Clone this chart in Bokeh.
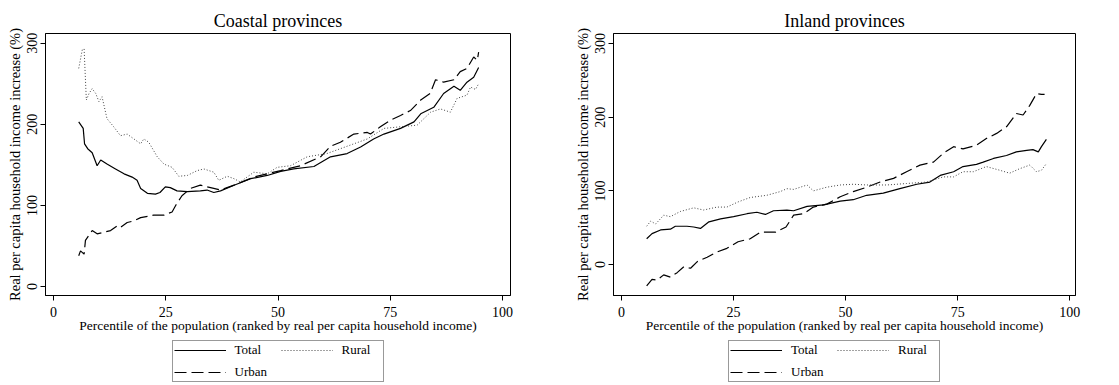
from bokeh.plotting import figure
from bokeh.layouts import row, column
from bokeh.models import Legend, LegendItem, FixedTicker, Range1d
from bokeh.embed import file_html
from bokeh.resources import INLINE

# ---------------- Data ----------------
coast_total_x = [5.6, 6.6, 6.9, 7.6, 8.6, 9.7, 10.5, 11.9, 13.8, 15.7, 17.5, 18.6, 19.4, 20.9, 22.7,
                 23.7, 24.9, 26.0, 27.5, 29.8, 32.7, 34.2, 35.7, 37.2, 40.2, 43.9, 47.6, 50.6, 53.5,
                 58.0, 61.7, 65.4, 68.4, 71.3, 73.6, 77.3, 80.3, 81.8, 84.7, 86.9, 89.2, 90.6, 92.1,
                 93.6, 94.7]
coast_total_y = [203, 195, 176, 170, 165, 149, 156, 151, 145, 139, 135, 131, 121, 115, 114,
                 116, 123, 122, 118, 117, 118, 119, 116, 118, 125, 133, 137, 142, 145,
                 148, 160, 164, 172, 182, 188, 195, 203, 213, 221, 238, 247, 242, 252,
                 258, 270]

coast_urban_x = [5.6, 6.0, 6.8, 7.1, 8.6, 9.7, 11.2, 12.7, 14.2, 14.9, 16.4, 17.9, 19.4, 22.3, 24.6,
                 26.4, 27.2, 28.6, 30.5, 32.7, 34.2, 35.7, 37.2, 40.2, 44.6, 50.6, 55.0, 59.5, 61.7,
                 63.9, 66.9, 69.9, 70.6, 72.8, 75.0, 77.3, 79.5, 81.8, 83.9, 85.1, 86.9, 89.2, 90.6,
                 92.1, 93.6, 94.4, 94.7]
coast_urban_y = [38, 44, 40, 57, 69, 65, 67, 69, 75, 73, 79, 81, 85, 88, 88,
                 92, 100, 112, 121, 125, 123, 121, 119, 125, 135, 143, 149, 160, 173,
                 178, 188, 190, 188, 197, 205, 211, 217, 230, 238, 255, 252, 255, 265,
                 269, 283, 279, 289]

coast_rural_x = [5.6, 6.4, 6.8, 7.3, 7.9, 8.6, 9.4, 10.1, 10.8, 11.9, 13.4, 14.9, 16.4, 17.9, 19.4,
                 20.1, 21.2, 23.1, 24.6, 26.4, 27.9, 29.8, 32.0, 33.5, 35.7, 36.8, 38.7, 40.2, 41.6,
                 44.6, 47.6, 49.8, 52.8, 56.5, 60.9, 66.9, 69.9, 73.6, 77.3, 81.0, 84.0, 86.2, 88.4,
                 89.9, 92.1, 92.9, 94.0, 94.7]
coast_rural_y = [269, 292, 293, 230, 238, 244, 238, 228, 234, 207, 197, 186, 188, 182, 176,
                 182, 178, 160, 151, 147, 136, 137, 143, 145, 141, 131, 136, 133, 129,
                 141, 139, 147, 149, 160, 164, 176, 182, 195, 197, 199, 215, 219, 215,
                 232, 236, 246, 243, 250]

inland_total_x = [5.6, 6.8, 8.7, 10.9, 12.0, 14.6, 16.1, 17.6, 19.5, 22.1, 25.0, 28.0, 30.2, 32.1,
                  33.9, 36.9, 38.4, 41.4, 45.1, 48.8, 51.7, 54.7, 58.4, 62.1, 65.9, 68.8, 71.1,
                  74.1, 76.2, 79.2, 80.7, 83.0, 85.9, 88.1, 90.4, 91.8, 93.0, 93.7, 94.8]
inland_total_y = [35, 42, 47, 48, 52, 52, 51, 49, 58, 62, 65, 69, 71, 68,
                  73, 74, 73, 79, 81, 86, 88, 94, 97, 103, 109, 112, 121,
                  126, 133, 136, 139, 144, 148, 153, 155, 156, 153, 160, 170]

inland_urban_x = [5.6, 6.8, 7.9, 9.4, 10.9, 12.4, 13.9, 15.4, 16.9, 19.1, 21.3, 23.5, 26.0, 28.7,
                  31.0, 34.4, 36.7, 38.4, 40.6, 42.8, 45.8, 48.8, 51.7, 54.7, 57.7, 60.7, 63.6,
                  66.6, 69.6, 71.8, 74.1, 76.2, 79.2, 81.4, 83.7, 85.9, 88.1, 89.6, 91.1, 92.6,
                  93.7, 94.4]
inland_urban_y = [-29, -20, -21, -14, -17, -11, -3, -5, 4, 10, 17, 22, 31, 35,
                  44, 44, 51, 67, 69, 78, 82, 92, 99, 105, 112, 117, 126,
                  135, 139, 151, 160, 157, 162, 171, 178, 187, 205, 203, 216, 232,
                  231, 231]

inland_rural_x = [5.6, 6.5, 7.6, 9.4, 10.9, 13.1, 16.1, 18.3, 21.3, 23.5, 26.0, 28.7, 32.4, 35.4,
                  36.9, 38.4, 41.4, 42.8, 45.8, 48.8, 51.7, 54.7, 59.2, 63.6, 68.1, 71.8, 74.1,
                  76.2, 78.5, 81.4, 84.4, 86.6, 88.8, 91.1, 92.6, 93.7, 94.8]
inland_rural_y = [52, 59, 55, 67, 65, 72, 77, 74, 78, 78, 85, 91, 94, 99,
                  103, 102, 108, 100, 105, 108, 109, 108, 108, 110, 112, 119, 119,
                  126, 126, 133, 128, 124, 130, 135, 126, 128, 137]

x_ticks = [0, 25, 50, 75, 100]
y_ticks = [0, 100, 200, 300]
series_names = ["Total", "Urban", "Rural"]

FONT = "Liberation Serif"
STYLES = [dict(line_color="black", line_width=1.2),
          dict(line_color="black", line_width=1.2, line_dash="12 5"),
          dict(line_color="#444444", line_width=1.0, line_dash="1 2")]
NAN = float("nan")


def make_panel(title, xr, yr, data, left, right, frame_w):
    p = figure(frame_width=frame_w, frame_height=262,
               x_range=Range1d(*xr), y_range=Range1d(*yr),
               output_backend="svg", toolbar_location=None,
               min_border_left=left, min_border_right=right,
               min_border_top=33, min_border_bottom=45,
               background_fill_color="white", border_fill_color="white")
    p.title.text = title
    p.title.align = "center"
    p.title.text_font = FONT
    p.title.text_font_size = "18px"
    p.title.text_font_style = "normal"
    p.title.text_color = "black"
    p.title.standoff = 5
    p.outline_line_color = "black"
    p.outline_line_width = 1
    p.outline_line_alpha = 1
    p.grid.visible = False

    for ax in (p.xaxis, p.yaxis):
        ax.axis_line_color = "black"
        ax.major_tick_line_color = "black"
        ax.minor_tick_line_color = None
        ax.major_tick_out = 5
        ax.major_tick_in = 0
        ax.major_label_text_font = FONT
        ax.major_label_text_font_size = "14px"
        ax.major_label_text_color = "black"
        ax.axis_label_text_font = FONT
        ax.axis_label_text_font_style = "normal"
        ax.axis_label_text_color = "black"
    p.xaxis.axis_label_text_font_size = "13.5px"
    p.yaxis.axis_label_text_font_size = "14.5px"
    p.xaxis.ticker = FixedTicker(ticks=x_ticks)
    p.yaxis.ticker = FixedTicker(ticks=y_ticks)
    p.yaxis.major_label_orientation = "vertical"
    p.xaxis.major_label_standoff = 6
    p.yaxis.major_label_standoff = 3
    p.xaxis.axis_label_standoff = -2
    p.yaxis.axis_label_standoff = 2
    p.xaxis.axis_label = "Percentile of the population (ranked by real per capita household income)"
    p.yaxis.axis_label = "Real per capita household income increase (%)"

    for (xs, ys), st in zip(data, STYLES):
        p.line(xs, ys, **st)
    return p


def make_legend_fig(left, frame_w, right):
    lf = figure(frame_width=frame_w, frame_height=45, x_range=Range1d(0, 1), y_range=Range1d(0, 1),
                output_backend="svg", toolbar_location=None,
                x_axis_type=None, y_axis_type=None,
                min_border_left=left, min_border_right=right, min_border_top=0, min_border_bottom=0,
                background_fill_color="white", border_fill_color="white")
    lf.outline_line_color = None
    lf.grid.visible = False
    # legend keys only: invisible (NaN) lines carrying the series' styles
    rs = [lf.line([NAN], [NAN], **st) for st in STYLES]
    legend = Legend(items=[LegendItem(label=n, renderers=[r]) for n, r in zip(series_names, rs)],
                    location="top_center", orientation="vertical", ncols=2,
                    label_text_font=FONT, label_text_font_size="13px",
                    label_text_color="black",
                    glyph_width=52, glyph_height=12, label_height=12, label_width=40,
                    label_standoff=9, spacing=6, padding=1, margin=0,
                    border_line_color="#333333", border_line_width=1,
                    background_fill_color="white")
    lf.add_layout(legend, "center")
    return lf


p1 = make_panel("Coastal provinces", (-1.8, 101.8), (-11, 312),
                [(coast_total_x, coast_total_y), (coast_urban_x, coast_urban_y),
                 (coast_rural_x, coast_rural_y)], 45, 50, 465)
p2 = make_panel("Inland provinces", (-1.8, 101.3), (-42, 313.6),
                [(inland_total_x, inland_total_y), (inland_urban_x, inland_urban_y),
                 (inland_rural_x, inland_rural_y)], 53, 40, 462)
l1 = make_legend_fig(0, 555, 5)
l2 = make_legend_fig(0, 548, 10)

layout = column(row(p1, p2), row(l1, l2))
open("out.html", "w").write(file_html(layout, INLINE))
